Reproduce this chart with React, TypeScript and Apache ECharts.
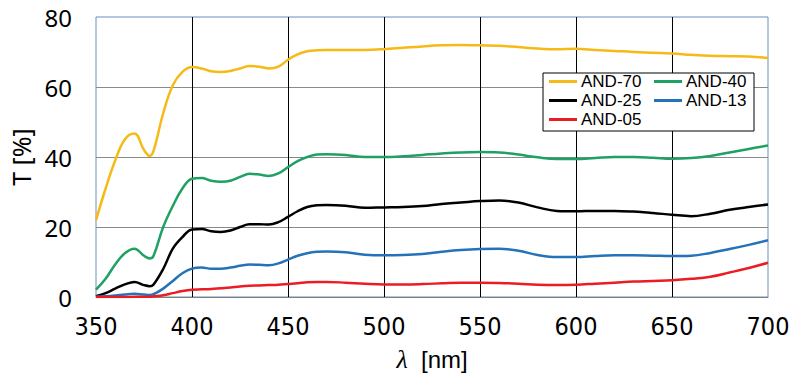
import React, { useEffect, useRef } from "react";
import * as echarts from "echarts";

const wavelengths = [
  350, 355, 360, 365, 370, 375, 378, 380, 385, 390, 395, 400, 405, 410, 415, 420, 425, 430, 435, 440,
  445, 450, 455, 460, 465, 470, 480, 490, 500, 510, 520, 530, 540, 550, 560, 570, 580, 590, 600, 610,
  620, 630, 640, 650, 660, 670, 680, 690, 700,
];

const and70 = [
  21.9, 31, 39, 45, 46.7, 42, 40.3, 41.8, 52.5, 60.5, 64.3, 65.7, 65.3, 64.5, 64.3, 64.6, 65.3, 66, 65.8, 65.3,
  65.8, 67.8, 69.3, 70.2, 70.5, 70.6, 70.6, 70.6, 70.8, 71.2, 71.6, 71.9, 72, 71.9, 71.8, 71.4, 71.0, 70.8, 70.9, 70.6,
  70.3, 70.0, 69.8, 69.6, 69.2, 68.9, 68.8, 68.7, 68.3,
];

const and40 = [
  2.1, 5.2, 9.3, 12.5, 13.8, 11.8, 11.0, 11.8, 20, 26, 31, 33.8, 34.0, 33.2, 32.9, 33.2, 34.3, 35.2, 35, 34.6,
  35.3, 37.1, 38.8, 40.0, 40.7, 40.8, 40.6, 40.0, 40.0, 40.2, 40.6, 41.0, 41.3, 41.4, 41.3, 40.7, 39.9, 39.4, 39.4, 39.7,
  40.0, 40.0, 39.8, 39.5, 39.7, 40.3, 41.3, 42.3, 43.3,
];

const and25 = [
  0.2, 1.1, 2.4, 3.6, 4.3, 3.4, 3.1, 3.6, 8, 13.8, 17.1, 19.3, 19.4, 18.8, 18.6, 19.0, 20.0, 20.8, 20.8, 20.7,
  21.4, 22.9, 24.5, 25.7, 26.2, 26.3, 26.1, 25.5, 25.6, 25.7, 26.0, 26.6, 27.0, 27.4, 27.6, 27.0, 25.6, 24.6, 24.5, 24.6,
  24.6, 24.4, 24.0, 23.5, 23.1, 23.8, 24.9, 25.7, 26.4,
];

const and13 = [
  0.1, 0.2, 0.4, 0.7, 0.9, 0.7, 0.6, 0.8, 2.4, 4.6, 6.8, 8.1, 8.4, 8.1, 8.1, 8.4, 8.9, 9.3, 9.2, 9.1,
  9.6, 10.7, 11.8, 12.5, 12.9, 13.0, 12.8, 12.1, 11.9, 12.0, 12.3, 12.9, 13.4, 13.7, 13.8, 13.2, 12.0, 11.4, 11.4, 11.7,
  11.9, 11.9, 11.8, 11.7, 11.8, 12.6, 13.7, 14.9, 16.2,
];

const and05 = [
  0, 0, 0, 0, 0.05, 0.1, 0.1, 0.2, 0.5, 1.1, 1.7, 2.1, 2.2, 2.3, 2.5, 2.7, 3.0, 3.2, 3.3, 3.4,
  3.5, 3.7, 3.9, 4.2, 4.3, 4.3, 4.1, 3.8, 3.6, 3.6, 3.7, 3.9, 4.1, 4.1, 4.0, 3.8, 3.5, 3.4, 3.5, 3.8,
  4.1, 4.4, 4.6, 4.8, 5.2, 5.8, 7.0, 8.3, 9.8,
];

const seriesNames = ["AND-70", "AND-40", "AND-25", "AND-13", "AND-05"];
const seriesValues = [and70, and40, and25, and13, and05];
const seriesColors = ["#F6BA17", "#1FA163", "#000000", "#2472B9", "#EC1C24"];
const legendFirstColumn = ["AND-70", "AND-25", "AND-05"];

const xTicks = { min: 350, max: 700, interval: 50 };
const yTicks = { min: 0, max: 80, interval: 20 };

export default function App() {
  const ref = useRef<HTMLDivElement>(null);

  useEffect(() => {
    if (!ref.current) return;
    const chart = echarts.init(ref.current, undefined, { renderer: "svg" });
    const series = seriesNames.map((name, i) => ({
      name,
      type: "line",
      data: wavelengths.map((w, j) => [w, seriesValues[i][j]]),
      showSymbol: false,
      smooth: 0.4,
      lineStyle: { color: seriesColors[i], width: 2.5 },
      itemStyle: { color: seriesColors[i] },
      z: 3,
    }));
    chart.setOption({
      animation: false,
      backgroundColor: "#ffffff",
      grid: {
        left: 96,
        top: 17,
        width: 672,
        height: 280,
        show: true,
        borderColor: "#6a8fbf",
        borderWidth: 1,
        backgroundColor: "transparent",
      },
      legend: {
        data: seriesNames.map((name) => ({
          name,
          textStyle: { width: legendFirstColumn.includes(name) ? 71 : 62 },
        })),
        orient: "horizontal",
        left: 543,
        top: 73,
        width: 201,
        padding: [0, 6, 3, 6],
        itemGap: 2,
        itemWidth: 28,
        itemHeight: 3,
        icon: "rect",
        backgroundColor: "#ffffff",
        borderColor: "#000000",
        borderWidth: 1,
        borderRadius: 0,
        textStyle: {
          fontFamily: "'Liberation Sans', Arial, sans-serif",
          fontSize: 17,
          color: "#000000",
          height: 16,
          lineHeight: 16,
          overflow: "none",
          padding: [0, 0, 0, -1],
        },
      },
      xAxis: {
        type: "value",
        min: xTicks.min,
        max: xTicks.max,
        interval: xTicks.interval,
        name: "{i|λ}  [nm]",
        nameLocation: "middle",
        nameGap: 49,
        nameTextStyle: {
          fontFamily: "'Liberation Sans', Arial, sans-serif",
          fontSize: 24,
          color: "#000000",
          rich: {
            i: {
              fontFamily: "'Liberation Serif', serif",
              fontStyle: "italic",
              fontSize: 26,
              color: "#000000",
            },
          },
        },
        axisLine: { show: true, lineStyle: { color: "#808080", width: 1 } },
        axisTick: { show: false },
        axisLabel: {
          margin: 17,
          fontFamily: "'Liberation Sans Narrow', 'DejaVu Sans Condensed', 'Liberation Sans', sans-serif",
          fontSize: 25,
          color: "#000000",
        },
        splitLine: {
          show: true,
          showMinLine: false,
          showMaxLine: false,
          lineStyle: { color: "#000000", width: 1 },
        },
      },
      yAxis: {
        type: "value",
        min: yTicks.min,
        max: yTicks.max,
        interval: yTicks.interval,
        name: "T [%]",
        nameLocation: "middle",
        nameGap: 58,
        nameTextStyle: {
          fontFamily: "'Noto Sans', sans-serif",
          fontSize: 25,
          color: "#000000",
        },
        axisLine: { show: false },
        axisTick: { show: false },
        axisLabel: {
          margin: 24,
          fontFamily: "'Noto Sans', sans-serif",
          fontSize: 24,
          color: "#000000",
        },
        splitLine: {
          show: true,
          showMinLine: false,
          showMaxLine: false,
          lineStyle: { color: "#8a8a8a", width: 1 },
        },
      },
      series,
    });
    return () => chart.dispose();
  }, []);

  return (
    <div
      ref={ref}
      style={{ position: "fixed", left: 0, top: 0, width: 799, height: 380, background: "#fff" }}
    />
  );
}
